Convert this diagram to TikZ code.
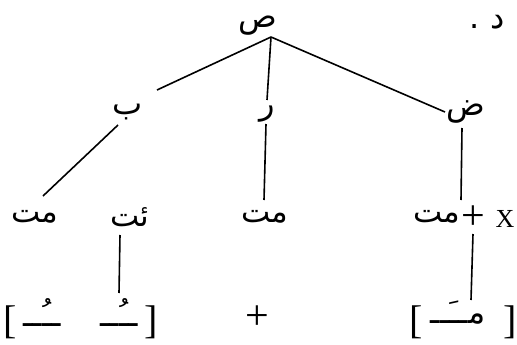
\documentclass[tikz,border=0pt]{standalone}
\usepackage{fontspec}
\setmainfont{Liberation Serif}
\newfontfamily\arabicfont[Script=Arabic]{DejaVu Sans}
\TeXXeTstate=1
\begin{document}
\begin{tikzpicture}[x=1pt,y=-1pt,
  ar/.style={font=\arabicfont\fontsize{32}{36}\selectfont, inner sep=0pt},
  arbig/.style={font=\arabicfont\fontsize{31}{36}\selectfont, inner sep=0pt},
  lat/.style={font=\fontsize{26}{30}\selectfont, inner sep=0pt},
  brk/.style={font=\fontsize{40}{44}\selectfont, inner sep=0pt},
  plussign/.style={font=\fontsize{42}{46}\selectfont, inner sep=0pt},
  edge/.style={line width=1.6pt}]
\useasboundingbox (0,0) rectangle (517,345);
% level 0
\node[ar] (s) at (258,26) {\beginR ص\endR};
\node[ar] (d) at (487,22) {\beginR د .\endR};
% level 1
\node[ar] (b) at (128,112) {\beginR ب\endR};
\node[ar] (r) at (267,114) {\beginR ر\endR};
\node[ar] (dd) at (466,112) {\beginR ض\endR};
% level 2
\node[arbig] (m1) at (35,217) {\beginR مت\endR};
\node[arbig] (y1) at (130,217) {\beginR ئت\endR};
\node[arbig] (m2) at (265,217) {\beginR مت\endR};
\node[arbig] (m3) at (437,217) {\beginR مت\endR};
\node[plussign] (p1) at (473,218) {+};
\node[lat] (x) at (505,219) {X};
% level 3
\node[brk] (lb1) at (10,322) {[};
\node[ar] (t1) at (42,313) {\beginR ــُــ\endR};
\node[ar] (t2) at (119,313) {\beginR ــُــ\endR};
\node[brk] (rb1) at (151,322) {]};
\node[plussign] (p2) at (257,318) {+};
\node[brk] (lb2) at (416,322) {[};
\node[ar] (t3) at (458,313) {\beginR مــَــ\endR};
\node[brk] (rb2) at (510,322) {]};
% connectors
\coordinate (apex) at (271,37);
\coordinate (bend) at (157,90);
\coordinate (rend) at (267,100);
\coordinate (dend) at (445,112);
\coordinate (b2) at (118,125);
\coordinate (m1e) at (43,196);
\coordinate (r2) at (266,124);
\coordinate (m2e) at (264,200);
\coordinate (d2) at (462,128);
\coordinate (m3e) at (461,200);
\coordinate (y2) at (120,235);
\coordinate (t2e) at (119,293);
\coordinate (p1e) at (473,234);
\coordinate (t3e) at (471,300);
\draw[edge] (apex) -- (bend);
\draw[edge] (apex) -- (rend);
\draw[edge] (apex) -- (dend);
\draw[edge] (b2) -- (m1e);
\draw[edge] (r2) -- (m2e);
\draw[edge] (d2) -- (m3e);
\draw[edge] (y2) -- (t2e);
\draw[edge] (p1e) -- (t3e);
\end{tikzpicture}
\end{document}
